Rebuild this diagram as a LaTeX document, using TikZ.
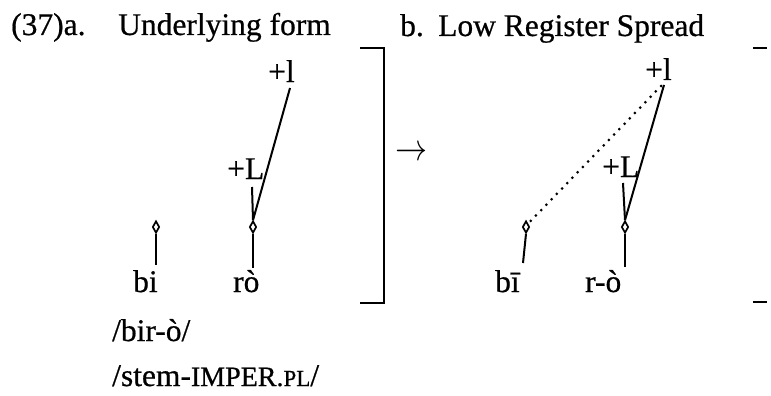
\documentclass[tikz,border=0pt]{standalone}
\usepackage{fontspec}
\setmainfont{Liberation Serif}[FakeBold=0.6]
\usetikzlibrary{shapes.geometric}
\begin{document}
\begin{tikzpicture}[x=1pt,y=-1pt,
  txt/.style={inner sep=0pt,font=\fontsize{31.5}{31.5}\selectfont},
  tier/.style={line width=2pt},
  dotl/.style={line width=3pt,line cap=round,dash pattern=on 0pt off 7.5pt},
  tbu/.style={diamond,draw,line width=1.7pt,inner sep=0pt,minimum width=7pt,minimum height=12pt,fill=white}]
\useasboundingbox (0,0) rectangle (771,396);
% titles
\node[txt,anchor=base west] (num) at (11,35) {(37)a.};
\node[txt,anchor=base west] (ta) at (118,35) {Underlying form};
\node[txt,anchor=base west] (bb) at (400,36) {b.};
\node[txt,anchor=base west] (tb) at (438,36) {Low Register Spread};
% bracket
\coordinate (brA) at (360,48);
\coordinate (brB) at (384,48);
\coordinate (brC) at (384,303);
\coordinate (brD) at (360,303);
\draw[line width=2pt] (brA) -- (brB) -- (brC) -- (brD);
% right dashes
\coordinate (dA) at (753,48);
\coordinate (dB) at (767,48);
\draw[line width=1.5pt] (dA) -- (dB);
\coordinate (dC) at (753,302);
\coordinate (dD) at (767,302);
\draw[line width=1.5pt] (dC) -- (dD);
% arrow
\node[inner sep=0pt,anchor=center] (arr) at (411,153) {\resizebox{32pt}{14pt}{$\rightarrow$}};
% ---- panel a ----
\node[txt,anchor=base west] (alr) at (268,82) {+l};
\node[txt,anchor=base west] (aLT) at (227,179) {+L};
\node[tbu] (ad1) at (156,227) {};
\node[tbu] (ad2) at (253,227) {};
\node[txt,anchor=base west] (abi) at (133,292) {bi};
\node[txt,anchor=base west] (aro) at (233,292) {rò};
\coordinate (alrB) at (290,88);
\coordinate (aLTB) at (252,187);
\coordinate (ad1B) at (156,265);
\coordinate (ad2B) at (253,268);
\draw[tier] (alrB) -- (ad2.north);
\draw[tier] (aLTB) -- (ad2.north);
\draw[tier] (ad1.south) -- (ad1B);
\draw[tier] (ad2.south) -- (ad2B);
% ---- panel b ----
\node[txt,anchor=base west] (blr) at (645,80) {+l};
\node[txt,anchor=base west] (bLT) at (602,177) {+L};
\node[tbu] (bd1) at (526,227) {};
\node[tbu] (bd2) at (625,227) {};
\node[txt,anchor=base west] (bbi) at (495,292) {b\=\i};
\node[txt,anchor=base west] (bro) at (585,292) {r-ò};
\coordinate (blrB) at (664,85);
\coordinate (blrD) at (661,86);
\coordinate (bLTB) at (623,183);
\coordinate (bd1B) at (523,263);
\coordinate (bd2B) at (625,267);
\draw[tier] (blrB) -- (bd2.north);
\draw[tier] (bLTB) -- (bd2.north);
\draw[dotl] (blrD) -- (bd1.north east);
\draw[tier] (bd1.south) -- (bd1B);
\draw[tier] (bd2.south) -- (bd2B);
% glosses
\node[txt,anchor=base west] (g1) at (112,341) {/bir-ò/};
\node[txt,anchor=base west] (g2) at (112,386) {/stem-{\fontsize{28}{28}\selectfont IMPER.}{\fontsize{23}{23}\selectfont PL}/};
\end{tikzpicture}
\end{document}
